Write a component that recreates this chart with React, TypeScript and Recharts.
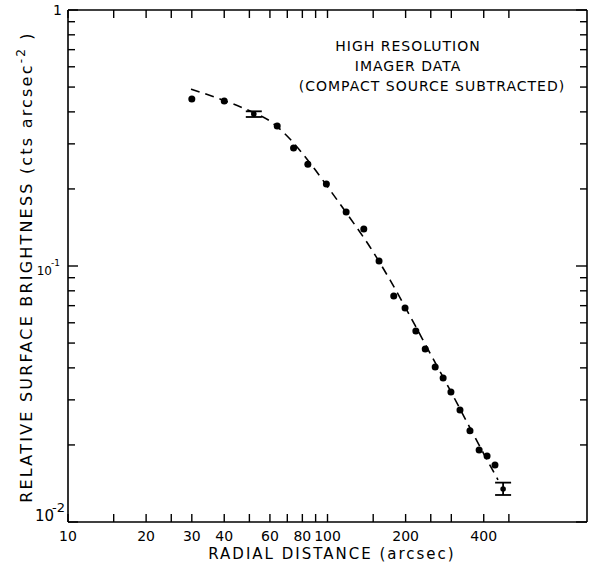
import React from "react";
import { ComposedChart, XAxis, YAxis, Scatter, Line, ErrorBar } from "recharts";

const radius = [30, 40, 52, 64, 74, 84, 99, 118, 138, 158, 180, 199, 219, 238, 260, 279, 299, 324, 354, 384, 412, 442, 475];
const brightness = [0.449, 0.441, 0.392, 0.352, 0.289, 0.25, 0.209, 0.1625, 0.1395, 0.1047, 0.0764, 0.0686, 0.0557, 0.0474, 0.0403, 0.0365, 0.0322, 0.0274, 0.0227, 0.0191, 0.0181, 0.0167, 0.01345];
const errRadius = [52, 475];
const errBrightness = [0.392, 0.01345];
const errLow = [0.01, 0.0007];
const errHigh = [0.01, 0.0008];
const modelRadius = [29.8, 38.5, 50.3, 60, 71.7, 85.6, 102.2, 122.1, 145.8, 174.1, 207.9, 248.3, 296.5, 354.2, 404.4, 454];
const modelBrightness = [0.491, 0.449, 0.403, 0.3684, 0.3133, 0.2525, 0.1981, 0.154, 0.1186, 0.0882, 0.0638, 0.0457, 0.0328, 0.0233, 0.0181, 0.0146];

const xTicks = [10, 15, 20, 25, 30, 40, 50, 60, 70, 80, 90, 100, 150, 200, 250, 300, 400, 500];
const xLabels = [10, 20, 30, 40, 60, 80, 100, 200, 400];
const yTicks = [0.01, 0.02, 0.03, 0.04, 0.05, 0.06, 0.07, 0.08, 0.09, 0.1, 0.2, 0.3, 0.4, 0.5, 0.6, 0.7, 0.8, 0.9, 1];

const FONT = "DejaVu Sans";

const points = radius.map((x, i) => ({ x, y: brightness[i] }));
const errPoints = errRadius.map((x, i) => ({ x, y: errBrightness[i], err: [errLow[i], errHigh[i]] }));
const model = modelRadius.map((x, i) => ({ x, y: modelBrightness[i] }));

const isDecade = (v: number) => Math.abs(Math.log10(v) - Math.round(Math.log10(v))) < 1e-6;

const BottomTick = (p: any) => {
  const v = p.payload.value;
  return (
    <g>
      <line x1={p.x} y1={p.y} x2={p.x} y2={p.y - 8} stroke="#000" strokeWidth={1.4} />
      {xLabels.includes(v) && (
        <text x={p.x} y={p.y + 19} textAnchor="middle" fontFamily={FONT} fontSize={14} fill="#000">
          {v}
        </text>
      )}
    </g>
  );
};

const TopTick = (p: any) => (
  <line x1={p.x} y1={p.y} x2={p.x} y2={p.y + 8} stroke="#000" strokeWidth={1.4} />
);

const LeftTick = (p: any) => {
  const v = p.payload.value;
  const dec = isDecade(v);
  const e = Math.round(Math.log10(v));
  return (
    <g>
      <line x1={p.x} y1={p.y} x2={p.x + (dec ? 10 : 7)} y2={p.y} stroke="#000" strokeWidth={1.4} />
      {dec && e === 0 && (
        <text x={p.x - 6} y={p.y + 5} textAnchor="end" fontFamily={FONT} fontSize={14} fill="#000">
          1
        </text>
      )}
      {dec && e === -1 && (
        <text x={p.x - 8} y={p.y + 9} textAnchor="end" fontFamily={FONT} fontSize={12} fill="#000">
          10
          <tspan dx={-1} dy={-9} fontSize={9}>
            -1
          </tspan>
        </text>
      )}
      {dec && e === -2 && (
        <text x={p.x - 3} y={p.y - 1} textAnchor="end" fontFamily={FONT} fontSize={15} fill="#000">
          10
          <tspan dx={-2} dy={-9} fontSize={13}>
            -2
          </tspan>
        </text>
      )}
    </g>
  );
};

const RightTick = (p: any) => {
  const v = p.payload.value;
  const dec = isDecade(v);
  return <line x1={p.x} y1={p.y} x2={p.x - (dec ? 11 : 7)} y2={p.y} stroke="#000" strokeWidth={1.4} />;
};

const Dot = (p: any) => <circle cx={p.cx} cy={p.cy} r={3.5} fill="#000" />;
const SmallDot = (p: any) => <circle cx={p.cx} cy={p.cy} r={2.8} fill="#000" />;

const axisLine = { stroke: "#000", strokeWidth: 1.6 };

export default function App() {
  return (
    <div style={{ position: "absolute", left: 0, top: 0, width: 589, height: 566, background: "#fff" }}>
      <ComposedChart width={589} height={566} margin={{ top: 9, right: 1, bottom: 43, left: 67 }}>
        <XAxis
          xAxisId="b"
          dataKey="x"
          type="number"
          scale="log"
          domain={[10, 1000]}
          allowDataOverflow
          ticks={xTicks}
          interval={0}
          height={1}
          orientation="bottom"
          tickSize={0}
          tickMargin={0}
          tickLine={false}
          tick={<BottomTick />}
          axisLine={axisLine}
        />
        <XAxis
          xAxisId="t"
          dataKey="x"
          type="number"
          scale="log"
          domain={[10, 1000]}
          allowDataOverflow
          ticks={xTicks}
          interval={0}
          height={1}
          orientation="top"
          tickSize={0}
          tickMargin={0}
          tickLine={false}
          tick={<TopTick />}
          axisLine={axisLine}
        />
        <YAxis
          yAxisId="l"
          type="number"
          scale="log"
          domain={[0.01, 1]}
          allowDataOverflow
          ticks={yTicks}
          interval={0}
          width={1}
          orientation="left"
          tickSize={0}
          tickMargin={0}
          tickLine={false}
          tick={<LeftTick />}
          axisLine={axisLine}
        />
        <YAxis
          yAxisId="r"
          type="number"
          scale="log"
          domain={[0.01, 1]}
          allowDataOverflow
          ticks={yTicks}
          interval={0}
          width={1}
          orientation="right"
          tickSize={0}
          tickMargin={0}
          tickLine={false}
          tick={<RightTick />}
          axisLine={axisLine}
        />
        <Line
          xAxisId="b"
          yAxisId="l"
          data={model}
          dataKey="y"
          type="monotone"
          stroke="#000"
          strokeWidth={1.6}
          strokeDasharray="9 6"
          dot={false}
          activeDot={false}
          isAnimationActive={false}
        />
        <Scatter xAxisId="b" yAxisId="l" data={points.filter((_, i) => i !== 2 && i !== 22)} dataKey="y" shape={<Dot />} isAnimationActive={false} />
        <Scatter xAxisId="b" yAxisId="l" data={errPoints} dataKey="y" shape={<SmallDot />} isAnimationActive={false}>
          <ErrorBar dataKey="err" direction="y" width={8} stroke="#000" strokeWidth={1.8} />
        </Scatter>
      </ComposedChart>
      <svg width={589} height={566} style={{ position: "absolute", left: 0, top: 0, pointerEvents: "none" }}>
        <g fontFamily={FONT} fill="#000" textAnchor="middle">
          <text x={408} y={51} fontSize={14} letterSpacing={1}>HIGH RESOLUTION</text>
          <text x={408} y={71} fontSize={14} letterSpacing={1}>IMAGER DATA</text>
          <text x={432} y={91} fontSize={14} letterSpacing={1}>(COMPACT SOURCE SUBTRACTED)</text>
          <text x={332} y={559} fontSize={15} letterSpacing={2}>RADIAL DISTANCE (arcsec)</text>
          <text transform="translate(32,267) rotate(-90)" fontSize={16} letterSpacing={2.2}>
            RELATIVE SURFACE BRIGHTNESS (cts arcsec
            <tspan dy={-7} fontSize={12}>-2</tspan>
            <tspan dy={7}> )</tspan>
          </text>
        </g>
      </svg>
    </div>
  );
}
